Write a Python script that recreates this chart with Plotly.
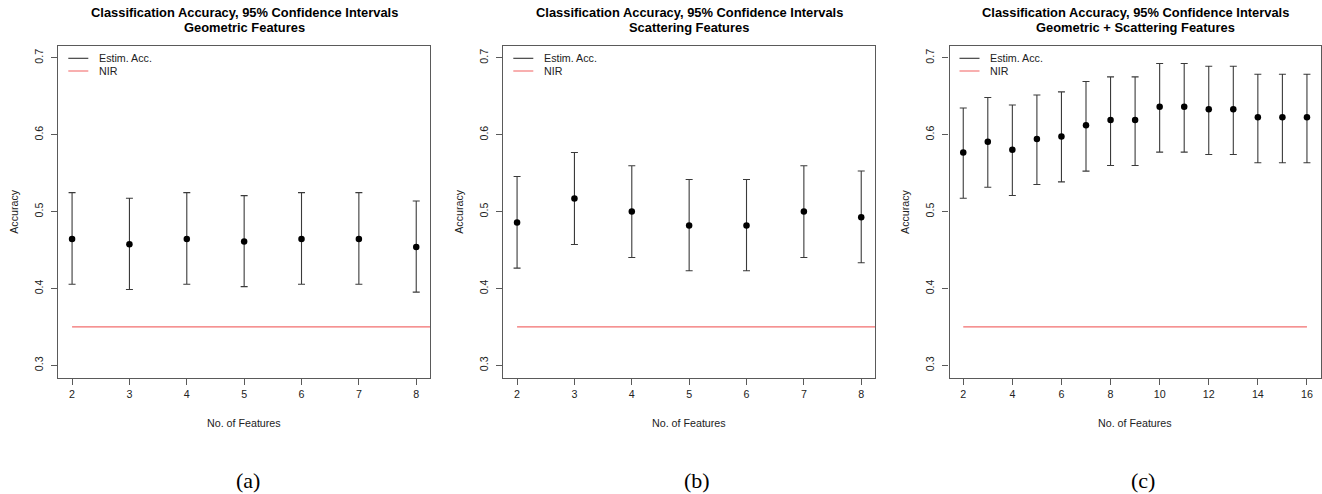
import plotly.graph_objects as go

W, H = 1322, 494

# ---------------- data ----------------
feat_a = [2, 3, 4, 5, 6, 7, 8]
acc_a = [0.4645, 0.4575, 0.4645, 0.4610, 0.4645, 0.4645, 0.4540]
lo_a = [0.4055, 0.3986, 0.4055, 0.4025, 0.4055, 0.4055, 0.3953]
hi_a = [0.5247, 0.5173, 0.5247, 0.5208, 0.5247, 0.5247, 0.5138]

feat_b = [2, 3, 4, 5, 6, 7, 8]
acc_b = [0.4859, 0.5171, 0.5000, 0.4820, 0.4820, 0.5000, 0.4928]
lo_b = [0.4265, 0.4573, 0.4404, 0.4231, 0.4231, 0.4404, 0.4335]
hi_b = [0.5457, 0.5769, 0.5596, 0.5418, 0.5418, 0.5596, 0.5527]

feat_c = [2, 3, 4, 5, 6, 7, 8, 9, 10, 11, 12, 13, 14, 15, 16]
acc_c = [0.5770, 0.5909, 0.5804, 0.5943, 0.5978, 0.6122, 0.6191, 0.6191,
         0.6365, 0.6365, 0.6330, 0.6330, 0.6226, 0.6226, 0.6226]
lo_c = [0.5174, 0.5317, 0.5209, 0.5352, 0.5387, 0.5526, 0.5600, 0.5600,
        0.5774, 0.5774, 0.5743, 0.5743, 0.5635, 0.5635, 0.5635]
hi_c = [0.6348, 0.6483, 0.6387, 0.6517, 0.6557, 0.6691, 0.6752, 0.6752,
        0.6926, 0.6926, 0.6891, 0.6891, 0.6787, 0.6787, 0.6787]

nir = 0.35
nir_x_a = [2, 9]
nir_x_b = [2, 9]
nir_x_c = [2, 16]

titles_sub = ["Geometric Features", "Scattering Features",
              "Geometric + Scattering Features"]
title_main = "Classification Accuracy, 95% Confidence Intervals"
captions = ["(a)", "(b)", "(c)"]
xticks_ab = [2, 3, 4, 5, 6, 7, 8]
xticks_c = [2, 4, 6, 8, 10, 12, 14, 16]
yticks = [0.3, 0.4, 0.5, 0.6, 0.7]

# ---------------- layout geometry ----------------
FONT = "Liberation Sans, Arial, Helvetica, sans-serif"
FS = 10.7
box_x = [(58.3, 430.0), (503.3, 875.0), (949.5, 1320.7)]
box_top, box_bot = 45.5, 377.7
ydom = [1 - box_bot / H, 1 - box_top / H]

panels = [
    (feat_a, acc_a, lo_a, hi_a, nir_x_a, xticks_ab),
    (feat_b, acc_b, lo_b, hi_b, nir_x_b, xticks_ab),
    (feat_c, acc_c, lo_c, hi_c, nir_x_c, xticks_c),
]

fig = go.Figure()
annotations = []
shapes = []
EB_COL = "#3a3a3a"
NIR_COL = "rgb(242,110,110)"
AX_COL = "#5a5a5a"

for i, (fx, acc, lo, hi, nx, xt) in enumerate(panels):
    n = i + 1
    xa = "x" if n == 1 else f"x{n}"
    ya = "y" if n == 1 else f"y{n}"
    xmin, xmax = min(fx), max(fx)
    pad = (xmax - xmin) * 0.04
    ypad = (0.7 - 0.3) * 0.04
    fig.add_trace(go.Scatter(
        x=nx, y=[nir] * len(nx), mode="lines",
        line=dict(color=NIR_COL, width=1.3),
        xaxis=xa, yaxis=ya, showlegend=False, hoverinfo="skip"))
    fig.add_trace(go.Scatter(
        x=fx, y=acc, mode="markers",
        marker=dict(color="black", size=6.5),
        error_y=dict(type="data", symmetric=False,
                     array=[h - a for h, a in zip(hi, acc)],
                     arrayminus=[a - l for a, l in zip(acc, lo)],
                     color=EB_COL, thickness=1.1, width=3.5),
        xaxis=xa, yaxis=ya, showlegend=False))

    x0, x1 = box_x[i]
    axis_common = dict(showgrid=False, zeroline=False, showline=True,
                       mirror=True, linecolor=AX_COL, linewidth=1.2,
                       ticks="outside", ticklen=6, tickwidth=1,
                       tickcolor=AX_COL,
                       tickfont=dict(family=FONT, size=FS, color="#222"))
    fig.layout[f"xaxis{'' if n == 1 else n}"] = dict(
        domain=[x0 / W, x1 / W], range=[xmin - pad, xmax + pad],
        anchor=ya, tickvals=xt, ticktext=[str(v) for v in xt], **axis_common)
    fig.layout[f"yaxis{'' if n == 1 else n}"] = dict(
        domain=ydom, range=[0.3 - ypad, 0.7 + ypad], anchor=xa,
        tickvals=yticks, ticktext=[f"{v:.1f}" for v in yticks],
        tickangle=-90, ticklabelstandoff=4, **axis_common)

    cx = (x0 + x1) / 2 / W
    annotations.append(dict(text=f"<b>{title_main}</b>", x=cx, y=1 - 12 / H,
                            xref="paper", yref="paper", showarrow=False,
                            xanchor="center", yanchor="middle",
                            font=dict(family=FONT, size=12.9, color="black")))
    annotations.append(dict(text=f"<b>{titles_sub[i]}</b>", x=cx, y=1 - 27 / H,
                            xref="paper", yref="paper", showarrow=False,
                            xanchor="center", yanchor="middle",
                            font=dict(family=FONT, size=12.9, color="black")))
    # axis titles
    annotations.append(dict(text="Accuracy", textangle=-90,
                            x=(x0 - 45) / W, y=1 - 211.5 / H,
                            xref="paper", yref="paper", showarrow=False,
                            xanchor="center", yanchor="middle",
                            font=dict(family=FONT, size=FS, color="#222")))
    annotations.append(dict(text="No. of Features", x=cx, y=1 - 423 / H,
                            xref="paper", yref="paper", showarrow=False,
                            xanchor="center", yanchor="middle",
                            font=dict(family=FONT, size=FS, color="#222")))
    # legend (drawn manually, R style)
    for lab, col, ypx in [("Estim. Acc.", "#333", 58.3), ("NIR", NIR_COL, 71.0)]:
        shapes.append(dict(type="line", xref="paper", yref="paper",
                           x0=(x0 + 10) / W, x1=(x0 + 30) / W,
                           y0=1 - ypx / H, y1=1 - ypx / H,
                           line=dict(color=col, width=1.1)))
        annotations.append(dict(text=lab, x=(x0 + 38.5) / W, y=1 - ypx / H,
                                xref="paper", yref="paper", showarrow=False,
                                xanchor="left", yanchor="middle",
                                font=dict(family=FONT, size=FS, color="#222")))
    # caption
    cap_x = [248, 697, 1143][i]
    annotations.append(dict(text=captions[i], x=cap_x / W, y=0.0,
                            xref="paper", yref="paper", showarrow=False,
                            xanchor="center", yanchor="bottom", borderpad=0,
                            font=dict(family="Liberation Serif, Times New Roman, serif",
                                      size=22, color="black")))

fig.update_layout(width=W, height=H, margin=dict(l=0, r=0, t=0, b=0),
                  paper_bgcolor="white", plot_bgcolor="white",
                  annotations=annotations, shapes=shapes, showlegend=False)

fig.write_html("out.html", config={"displayModeBar": False},
               post_script="document.body.style.margin='0';"
                           "document.body.style.overflow='hidden';")
